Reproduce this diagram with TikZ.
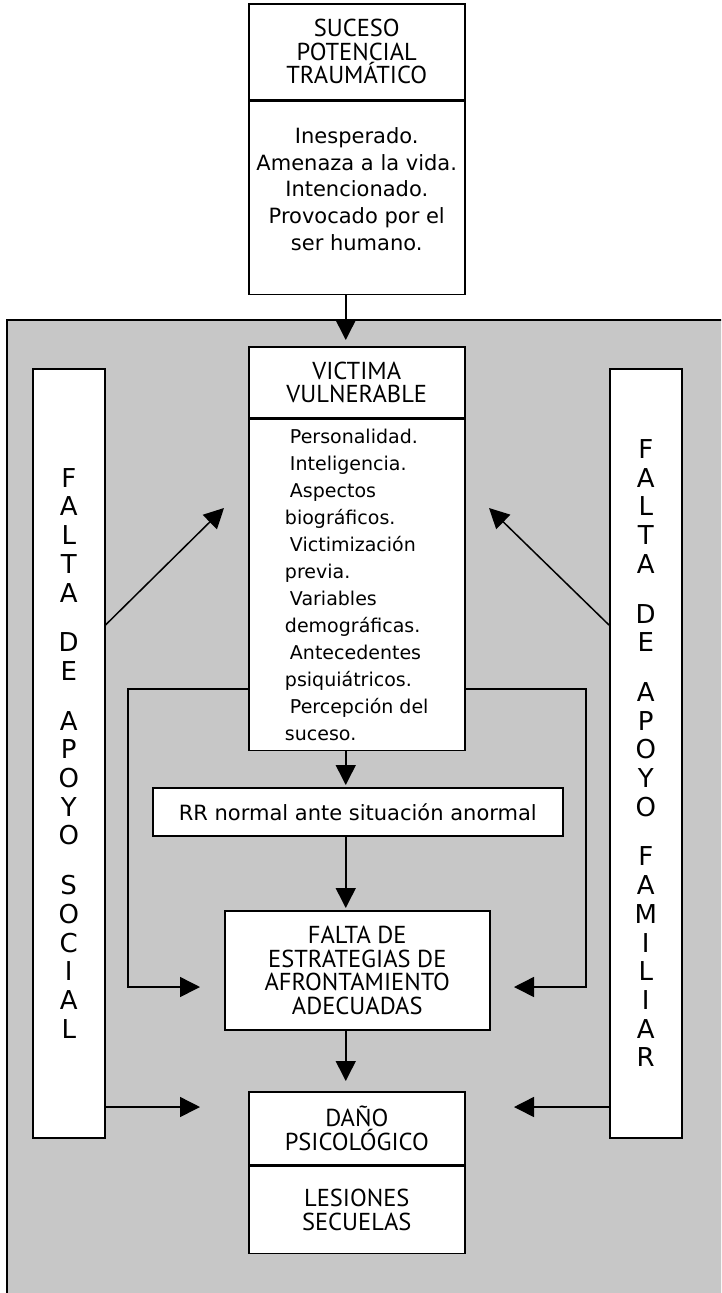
\documentclass[tikz,border=0pt]{standalone}
\usepackage{fontspec}
\setmainfont{DejaVu Sans}
\newfontfamily\headfont{PT Sans}
\usetikzlibrary{arrows.meta}
\definecolor{bggray}{RGB}{199,199,199}

\begin{document}
\begin{tikzpicture}[
        x=1pt, y=-1pt,
        box/.style={draw, line width=1.5pt, fill=white, inner sep=0pt, align=center},
        head/.style={box, font=\fontsize{24.5}{23.5}\headfont},
        txt/.style={box, font=\fontsize{21}{26.7}\selectfont},
        bar/.style={box, minimum width=72pt, minimum height=769pt, anchor=north west,
            font=\fontsize{26}{28.7}\selectfont},
        ar/.style={-{Triangle[length=20pt, width=20pt]}, line width=1.5pt},
    ]
    \path[use as bounding box, clip] (0,0) rectangle (721,1293);
    \draw[line width=1.5pt, fill=bggray] (7,320) rectangle (740,1310);

    \node[head, minimum width=216pt, minimum height=96pt, anchor=north west] (suceso) at (248,3)
        {SUCESO\\POTENCIAL\\TRAUMÁTICO};
    \node[txt, minimum width=216pt, minimum height=193pt, anchor=north, text depth=18pt] (sucesodet) at (suceso.south)
        {Inesperado.\\Amenaza a la vida.\\Intencionado.\\Provocado por el\\ser humano.};

    \node[head, minimum width=216pt, minimum height=71pt, anchor=north west] (victima) at (248,346)
        {VICTIMA\\VULNERABLE};
    \node[box, align=left, minimum width=216pt, minimum height=331pt, anchor=north,
        font=\fontsize{19}{27}\selectfont] (victimadet) at (victima.south)
        {\hspace{5pt}Personalidad.\\\hspace{5pt}Inteligencia.\\\hspace{5pt}Aspectos\\biográficos.\\
         \hspace{5pt}Victimización\\previa.\\\hspace{5pt}Variables\\demográficas.\\
         \hspace{5pt}Antecedentes\\psiquiátricos.\\\hspace{5pt}Percepción del\\suceso.};

    \node[txt, minimum width=410pt, minimum height=48pt, anchor=north west] (rr) at (152,787)
        {RR normal ante situación anormal};
    \node[head, minimum width=265pt, minimum height=119pt, anchor=north west] (falta) at (224,910)
        {FALTA DE\\ESTRATEGIAS DE\\AFRONTAMIENTO\\ADECUADAS};
    \node[head, minimum width=216pt, minimum height=73pt, anchor=north west] (dano) at (248,1091)
        {DAÑO\\PSICOLÓGICO};
    \node[head, minimum width=216pt, minimum height=87pt, anchor=north] (lesiones) at (dano.south)
        {LESIONES\\SECUELAS};

    \node[bar] (social) at (32,368)
        {F\\A\\L\\T\\A\\[21pt]D\\E\\[21pt]A\\P\\O\\Y\\O\\[21pt]S\\O\\C\\I\\A\\L};
    \node[bar] (familiar) at (609,368)
        {F\\A\\L\\T\\A\\[21pt]D\\E\\[21pt]A\\P\\O\\Y\\O\\[21pt]F\\A\\M\\I\\L\\I\\A\\R};

    \coordinate (tipSL) at (224,508);
    \coordinate (tipSR) at (489,508);
    \coordinate (tipFL) at (200,987);
    \coordinate (tipFR) at (514,987);
    \coordinate (tipDL) at (200,1107);
    \coordinate (tipDR) at (514,1107);

    \path[ar]
    ([xshift=-11pt]sucesodet.south) edge[shorten >=6pt] ([xshift=-11pt]victima.north)
    ([xshift=-11pt]victimadet.south) edge[shorten >=2pt] ([xshift=-12pt]rr.north)
    ([xshift=-12pt]rr.south) edge[shorten >=2pt] ([xshift=-11.5pt]falta.north)
    ([xshift=-11.5pt]falta.south) edge[shorten >=10pt] ([xshift=-11pt]dano.north)
    (social.east |- 0,625) edge (tipSL)
    (familiar.west |- 0,625) edge (tipSR)
    (social.east |- tipDL) edge (tipDL)
    (familiar.west |- tipDR) edge (tipDR)
    ;
    \draw[ar] (victimadet.west |- 0,689) -- (128,689) |- (tipFL);
    \draw[ar] (victimadet.east |- 0,689) -- (586,689) |- (tipFR);
\end{tikzpicture}
\end{document}
